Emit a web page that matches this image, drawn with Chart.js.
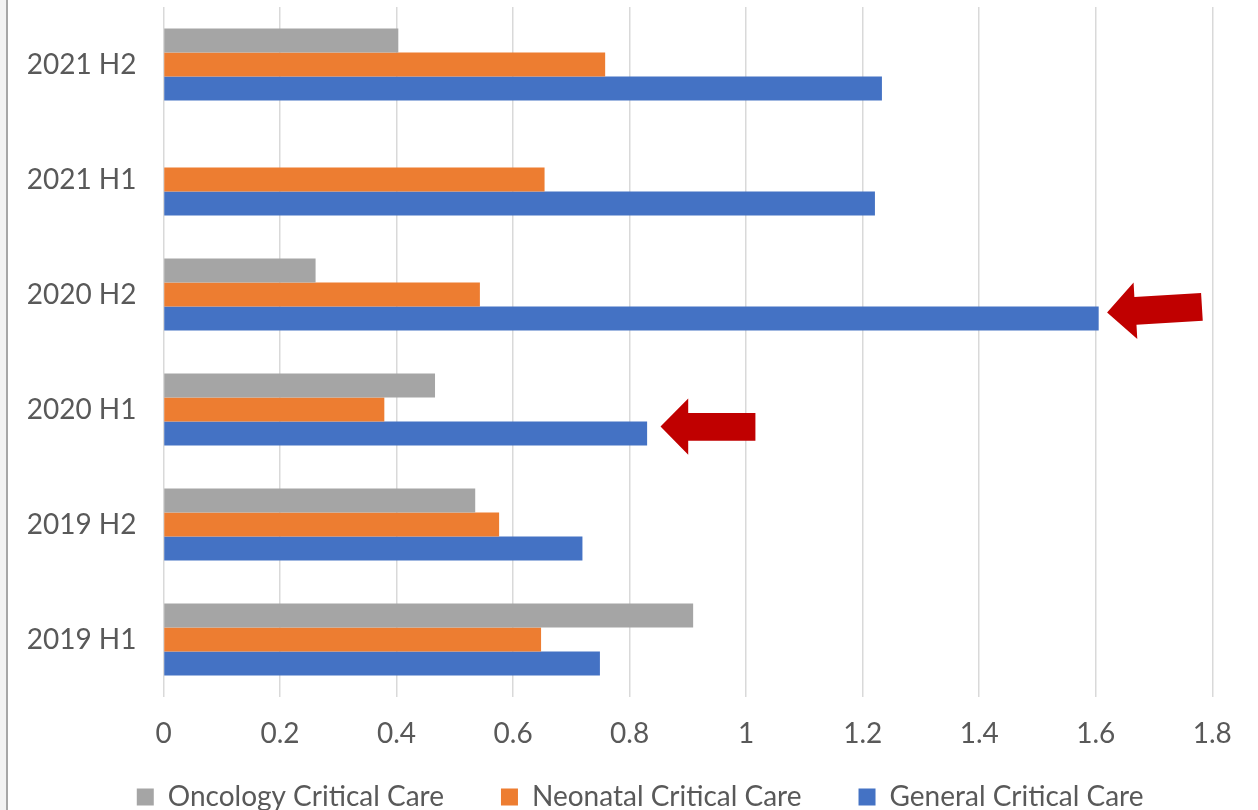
<!DOCTYPE html>
<html><head><meta charset="utf-8">
<script src="https://cdn.jsdelivr.net/npm/chart.js@4.4.1/dist/chart.umd.min.js"></script>
<style>
html,body{margin:0;padding:0;background:#fff;overflow:hidden;width:1258px;height:810px;}
#wrap{position:relative;width:1258px;height:821px;}
#strip{position:absolute;left:0;top:0;width:6px;height:810px;background:#f2f2f2;border-right:2px solid #a6a6a6;z-index:2;}
canvas{position:absolute;left:0;top:0;}
</style></head><body>
<div id="wrap"><div id="strip"></div><canvas id="c" width="1258" height="821"></canvas></div>
<script>
const categories = ['2019 H1','2019 H2','2020 H1','2020 H2','2021 H1','2021 H2'];
const seriesNames = ['Oncology Critical Care','Neonatal Critical Care','General Critical Care'];
const oncology = [0.909, 0.535, 0.466, 0.261, null, 0.403];
const neonatal = [0.648, 0.576, 0.379, 0.543, 0.654, 0.758];
const general  = [0.749, 0.719, 0.830, 1.605, 1.221, 1.233];
const xTickLabels = ['0','0.2','0.4','0.6','0.8','1','1.2','1.4','1.6','1.8'];
const highlighted = ['2020 H2','2020 H1'];

const TXT = '#595959';
const FONT = 'Lato';

// arrow shapes, offsets relative to the end/centre of the highlighted bar
const arrowShapes = [
  [[8.4,-6],[34.9,-36],[35.7,-21.4],[102.4,-25.4],[104.1,2.3],[37.8,6.3],[38.6,20.6]],
  [[13.4,-7],[41.1,-35],[41.1,-20.4],[108.3,-20.4],[108.3,7.3],[41.1,7.3],[41.1,21.3]]
];

const arrowPlugin = {
  id: 'arrows',
  afterDatasetsDraw(chart) {
    const meta = chart.getDatasetMeta(2);
    const ctx = chart.ctx;
    ctx.save();
    ctx.fillStyle = '#C00000';
    highlighted.forEach((lab, k) => {
      const el = meta.data[categories.indexOf(lab)];
      if (!el) return;
      const pts = arrowShapes[k];
      ctx.beginPath();
      pts.forEach((p, i) => {
        const px = el.x + p[0], py = el.y + p[1];
        if (i === 0) ctx.moveTo(px, py); else ctx.lineTo(px, py);
      });
      ctx.closePath();
      ctx.fill();
    });
    ctx.restore();
  }
};

function build() {
  new Chart(document.getElementById('c'), {
    type: 'bar',
    data: {
      labels: categories,
      datasets: [
        {label: seriesNames[0], data: oncology, backgroundColor: '#A5A5A5'},
        {label: seriesNames[1], data: neonatal, backgroundColor: '#ED7D31'},
        {label: seriesNames[2], data: general, backgroundColor: '#4472C4'}
      ]
    },
    options: {
      indexAxis: 'y',
      responsive: false,
      animation: false,
      devicePixelRatio: 1,
      datasets: { bar: { categoryPercentage: 0.626, barPercentage: 1.0, borderWidth: 0 } },
      layout: { padding: { left: 68, right: 45.7, top: 7, bottom: 0 } },
      scales: {
        x: {
          min: 0, max: 1.8,
          ticks: { stepSize: 0.2, mirror: true, padding: -53.6, color: TXT, font: {family: FONT, size: 28},
                   autoSkip: false, maxRotation: 0,
                   callback: (v, i) => xTickLabels[i] },
          grid: { color: '#d9d9d9', lineWidth: 1.5, drawTicks: false },
          border: { display: false },
          afterFit: (s) => { s.height = 29; s.paddingLeft = 0; s.paddingRight = 0; }
        },
        y: {
          reverse: true,
          ticks: { mirror: true, crossAlign: 'near', padding: -136.8, color: TXT, font: {family: FONT, size: 28} },
          grid: { display: false, drawTicks: false },
          border: { display: false },
          afterFit: (s) => { s.width = 95.5; s.paddingTop = 0; s.paddingBottom = 0; }
        }
      },
      plugins: {
        legend: {
          position: 'bottom',
          labels: { boxWidth: 17, boxHeight: 17, padding: 57, color: TXT, font: {family: FONT, size: 28} }
        },
        tooltip: { enabled: false }
      }
    },
    plugins: [arrowPlugin]
  });
}
if (document.fonts && document.fonts.load) {
  document.fonts.load('28px Lato').then(build, build);
} else { build(); }
</script>
</body></html>
